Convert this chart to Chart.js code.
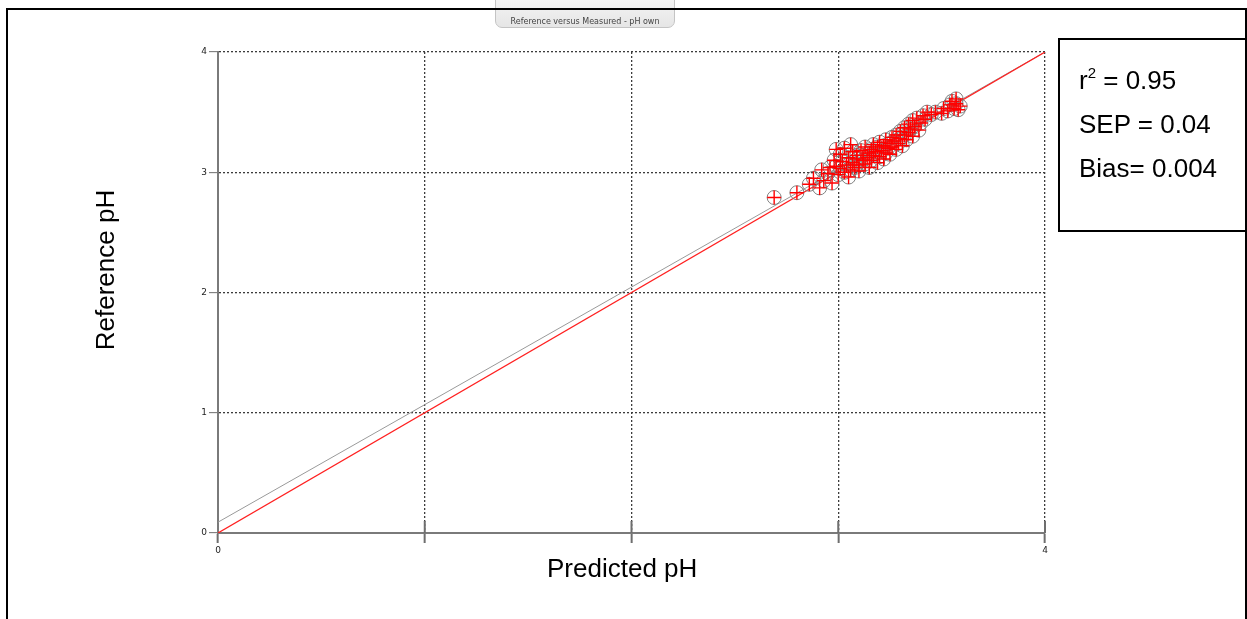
<!DOCTYPE html>
<html>
<head>
<meta charset="utf-8">
<title>Reference versus Measured - pH own</title>
<script src="https://cdn.jsdelivr.net/npm/chart.js@4/dist/chart.umd.min.js"></script>
<style>
  html, body { margin: 0; padding: 0; background: #fff; }
  body { width: 1247px; height: 619px; position: relative; overflow: hidden; font-family: "Liberation Sans", Arial, sans-serif; }
  #plot { position: absolute; left: 0; top: 0; }
  .badge {
    position: absolute; left: 495px; top: -2px; width: 180px; height: 30px;
    background: linear-gradient(#f4f4f4, #e6e6e6); border: 1px solid #c4c4c4; border-radius: 0 0 7px 7px;
    box-sizing: border-box; font: 8px "DejaVu Sans", sans-serif; color: #444;
    text-align: center; line-height: 46px; filter: blur(0.35px);
  }
  .frame {
    position: absolute; left: 6px; top: 8px; width: 1241px; height: 640px;
    border-top: 2px solid #000; border-left: 2px solid #000; border-right: 2px solid #000;
    box-sizing: border-box; pointer-events: none;
  }
  .stats {
    position: absolute; left: 1058px; top: 38px; width: 189px; height: 194px;
    border: 2px solid #000; box-sizing: border-box; background: #fff;
  }
  .stats div {
    position: absolute; left: 19px; font-size: 26px; line-height: 44px; color: #000; white-space: nowrap;
  }
  .stats sup { font-size: 15px; vertical-align: 0; position: relative; top: -11px; }
  .xtitle {
    position: absolute; left: 547px; top: 553px; font-size: 26px; line-height: 30px; color: #000; white-space: nowrap;
  }
  .ytitle {
    position: absolute; left: 105px; top: 270px; font-size: 26px; line-height: 30px; color: #000; white-space: nowrap;
    transform: translate(-50%, -50%) rotate(-90deg);
  }
</style>
</head>
<body>
<canvas id="plot" width="1247" height="619"></canvas>
<div class="badge">Reference versus Measured - pH own</div>
<div class="frame"></div>
<div class="stats">
  <div style="top:18px">r<sup>2</sup> = 0.95</div>
  <div style="top:62px">SEP = 0.04</div>
  <div style="top:106px">Bias= 0.004</div>
</div>
<div class="xtitle">Predicted pH</div>
<div class="ytitle">Reference pH</div>
<script>
// Predicted vs reference pH for each sample
const predicted = [
  2.69, 2.80, 2.86, 2.88, 2.91, 2.93, 2.95, 2.96, 2.97, 2.98,
  2.99, 3.00, 3.01, 3.01, 3.02, 3.03, 3.04, 3.05, 3.05, 3.06,
  3.07, 3.07, 3.08, 3.09, 3.09, 3.10, 3.10, 3.11, 3.12, 3.12,
  3.13, 3.13, 3.14, 3.15, 3.15, 3.16, 3.16, 3.17, 3.17, 3.18,
  3.19, 3.19, 3.20, 3.20, 3.21, 3.22, 3.22, 3.23, 3.23, 3.24,
  3.25, 3.25, 3.26, 3.26, 3.27, 3.28, 3.28, 3.29, 3.30, 3.30,
  3.31, 3.32, 3.32, 3.33, 3.34, 3.34, 3.35, 3.36, 3.36, 3.37,
  3.38, 3.39, 3.40, 3.41, 3.42, 3.43, 3.45, 3.47, 3.50, 3.51,
  3.53, 3.54, 3.55, 3.56, 3.57, 3.58, 3.59, 3.57, 2.92, 2.99,
  3.03, 3.06
];
const reference = [
  2.79, 2.83, 2.90, 2.95, 2.87, 2.93, 2.99, 3.04, 2.91, 3.10,
  3.05, 2.98, 3.03, 3.15, 3.09, 3.00, 3.06, 3.12, 2.96, 3.02,
  3.17, 3.08, 3.04, 3.11, 3.14, 3.06, 3.01, 3.18, 3.10, 3.14,
  3.07, 3.21, 3.12, 3.16, 3.04, 3.19, 3.10, 3.23, 3.14, 3.17,
  3.08, 3.21, 3.13, 3.25, 3.18, 3.22, 3.11, 3.16, 3.27, 3.20,
  3.24, 3.15, 3.29, 3.21, 3.26, 3.19, 3.31, 3.24, 3.28, 3.34,
  3.22, 3.31, 3.37, 3.27, 3.33, 3.40, 3.36, 3.30, 3.43, 3.38,
  3.45, 3.35, 3.41, 3.47, 3.44, 3.50, 3.48, 3.50, 3.49, 3.53,
  3.51, 3.56, 3.59, 3.53, 3.57, 3.52, 3.55, 3.61, 3.02, 3.19,
  3.20, 3.23
];

// 1:1 line and fitted regression line (end points)
const identityX = [0, 4];
const identityY = [0, 4];
const fitX = [0, 4];
const fitY = [0.09, 4];

// Axis tick labels
const xTickLabels = ['0', '', '', '', '4'];
const yTickLabels = ['0', '1', '2', '3', '4'];

const samples = predicted.map((p, i) => ({ x: p, y: reference[i] }));
const identity = identityX.map((x, i) => ({ x, y: identityY[i] }));
const fit = fitX.map((x, i) => ({ x, y: fitY[i] }));

const gridColor = ctx => (ctx.tick && ctx.tick.value === 0) ? 'rgba(0,0,0,0)' : '#3c3c3c';

// Major x ticks that also reach a little above the axis line
const crossTicks = {
  id: 'crossTicks',
  afterDraw(chart) {
    const xs = chart.scales.x, ys = chart.scales.y;
    const ctx = chart.ctx;
    const yAxis = ys.getPixelForValue(0);
    ctx.save();
    ctx.strokeStyle = '#6e6e6e';
    ctx.lineWidth = 2;
    xs.ticks.forEach(t => {
      if (t.value === 0) return;
      const px = xs.getPixelForValue(t.value);
      ctx.beginPath();
      ctx.moveTo(px, yAxis - 12);
      ctx.lineTo(px, yAxis);
      ctx.stroke();
    });
    ctx.restore();
  }
};

new Chart(document.getElementById('plot'), {
  type: 'scatter',
  data: {
    datasets: [
      {
        label: 'samples (+)',
        data: samples,
        pointStyle: 'cross',
        pointRadius: 7,
        borderColor: '#ff0000',
        borderWidth: 1.4,
        backgroundColor: '#ff0000',
        order: 0
      },
      {
        label: 'samples (o)',
        data: samples,
        pointStyle: 'circle',
        pointRadius: 7,
        borderColor: '#808080',
        borderWidth: 1,
        backgroundColor: 'rgba(0,0,0,0)',
        order: 1
      },
      {
        type: 'line',
        label: 'identity',
        data: identity,
        borderColor: '#ff2020',
        borderWidth: 1.2,
        pointRadius: 0,
        order: 2
      },
      {
        type: 'line',
        label: 'fit',
        data: fit,
        borderColor: '#9a9a9a',
        borderWidth: 1,
        pointRadius: 0,
        order: 3
      }
    ]
  },
  plugins: [crossTicks],
  options: {
    responsive: false,
    animation: false,
    events: [],
    layout: { padding: { left: 0, top: 52, right: 202, bottom: 0 } },
    plugins: { legend: { display: false }, tooltip: { enabled: false }, title: { display: false } },
    scales: {
      x: {
        type: 'linear',
        min: 0, max: 4,
        afterFit: s => { s.height = 86; },
        ticks: {
          stepSize: 1,
          autoSkip: false,
          maxRotation: 0,
          padding: 2,
          color: '#222',
          font: { family: 'DejaVu Sans', size: 9 },
          callback: (v, i) => xTickLabels[i]
        },
        grid: {
          color: gridColor,
          lineWidth: 1.3,
          tickColor: '#6e6e6e',
          tickLength: 10,
          tickWidth: 2
        },
        border: { color: '#7a7a7a', width: 2, dash: [2, 2] }
      },
      y: {
        type: 'linear',
        min: 0, max: 4,
        afterFit: s => { s.width = 218; },
        ticks: {
          stepSize: 1,
          autoSkip: false,
          padding: 2,
          color: '#222',
          font: { family: 'DejaVu Sans', size: 9 },
          callback: (v, i) => yTickLabels[i]
        },
        grid: {
          color: gridColor,
          lineWidth: 1.3,
          tickColor: '#6e6e6e',
          tickLength: 9,
          tickWidth: 1
        },
        border: { color: '#7a7a7a', width: 2, dash: [2, 2] }
      }
    }
  }
});
</script>
</body>
</html>
